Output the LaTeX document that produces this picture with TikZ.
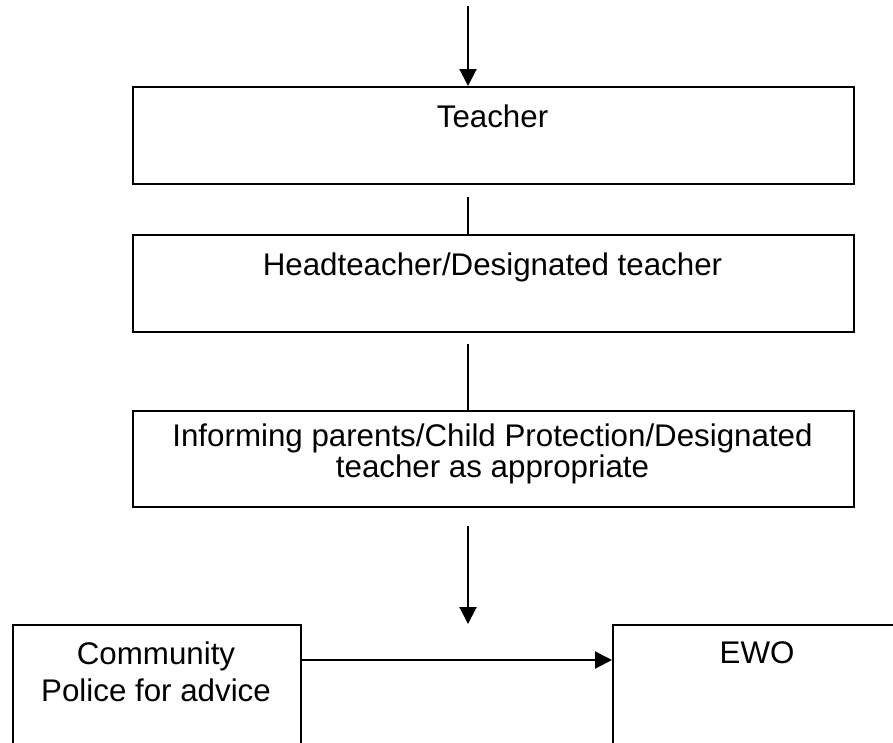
\documentclass[tikz,border=0pt]{standalone}
\usepackage{fontspec}
\setmainfont{Liberation Sans}
\usetikzlibrary{arrows.meta}
\begin{document}
\begin{tikzpicture}[x=1pt,y=-1pt,
  box/.style={draw,line width=2pt,inner sep=0pt,anchor=north west},
  lbl/.style={font=\fontsize{31.3}{27}\selectfont,align=center,inner sep=0pt,anchor=base},
  conn/.style={line width=2pt},
  arr/.style={conn,-{Triangle[width=17pt,length=17pt]}}]
\useasboundingbox (0,0) rectangle (893,742);
\clip (0,0) rectangle (893,742);
% boxes
\node[box,minimum width=721pt,minimum height=97pt] (teacher) at (132,86) {};
\node[box,minimum width=721pt,minimum height=97pt] (head) at (132,234) {};
\node[box,minimum width=721pt,minimum height=96pt] (inform) at (132,410) {};
\node[box,minimum width=288pt,minimum height=140pt] (police) at (12,624) {};
\node[box,minimum width=290pt,minimum height=140pt] (ewo) at (612,624) {};
% labels
\node[lbl] (tteacher) at (492.5,127) {Teacher};
\node[lbl] (thead) at (492.5,275) {Headteacher/Designated teacher};
\node[lbl] (tinform) at (492.5,477) {Informing parents/Child Protection/Designated\\teacher as appropriate};
\node[lbl,font=\fontsize{31.3}{37}\selectfont] (tpolice) at (156,701) {Community\\Police for advice};
\node[lbl] (tewo) at (757,663) {EWO};
% connectors
\coordinate (start) at (468,6);
\coordinate (l1) at (468,197);
\coordinate (l2) at (468,344);
\coordinate (l3) at (468,526);
\draw[arr] (start) -- (start |- teacher.north);
\draw[conn] (l1) -- (l1 |- head.north);
\draw[conn] (l2) -- (l2 |- inform.north);
\draw[arr] (l3) -- (l3 |- police.north);
\draw[arr] (police.east |- 0,660) -- (ewo.west |- 0,660);
\end{tikzpicture}
\end{document}
